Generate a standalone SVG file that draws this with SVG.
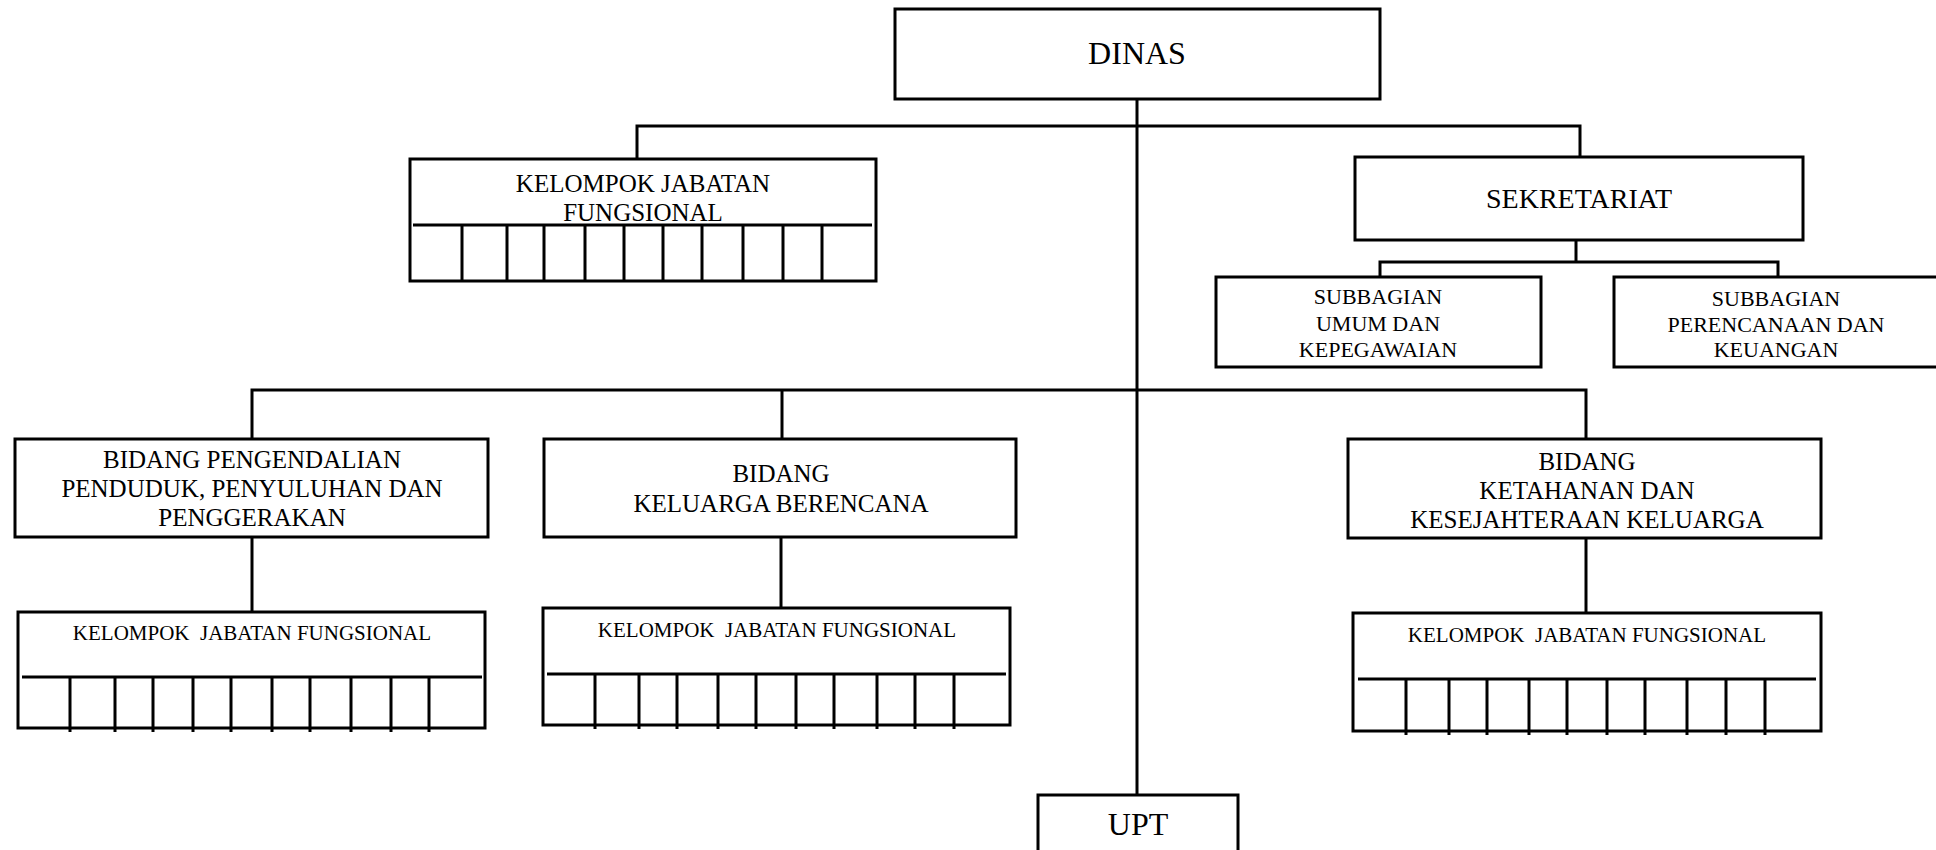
<svg xmlns="http://www.w3.org/2000/svg" width="1936" height="850" viewBox="0 0 1936 850">
<style>
  .box{fill:#fff;stroke:#000;stroke-width:3}
  .ln{fill:none;stroke:#000;stroke-width:3}
  text{font-family:"Liberation Serif","Times New Roman",serif;fill:#000;text-anchor:middle;white-space:pre}
  .t32{font-size:32px}
  .t28{font-size:28px}
  .t25{font-size:25px}
  .t22{font-size:22px}
  .t21{font-size:21px}
</style>
<rect width="1936" height="850" fill="#fff"/>
<g id="connectors" class="ln">
  <path d="M1137 99V795"/>
  <path d="M637 159V126H1580V157"/>
  <path d="M1576 240V262"/>
  <path d="M1380 277V262H1778V277"/>
  <path d="M252 439V390H1586V439"/>
  <path d="M782 390V439"/>
  <path d="M252 537V612"/>
  <path d="M781 537V608"/>
  <path d="M1586 538V613"/>
</g>
<g id="dinas">
  <rect class="box" x="895" y="9" width="485" height="90"/>
  <text class="t32" x="1137" y="64">DINAS</text>
</g>
<g id="kjf-top">
  <rect class="box" x="410" y="159" width="466" height="122"/>
  <path class="ln" d="M413 225H872M462 225V281M507 225V281M544 225V281M585 225V281M624 225V281M663 225V281M702 225V281M743 225V281M783 225V281M822 225V281"/>
  <text class="t25" x="643" y="192">KELOMPOK JABATAN</text>
  <text class="t25" x="643" y="221">FUNGSIONAL</text>
</g>
<g id="sekretariat">
  <rect class="box" x="1355" y="157" width="448" height="83"/>
  <text class="t28" x="1579" y="208">SEKRETARIAT</text>
</g>
<g id="subbag-umum">
  <rect class="box" x="1216" y="277" width="325" height="90"/>
  <text class="t22" x="1378" y="304">SUBBAGIAN</text>
  <text class="t22" x="1378" y="331">UMUM DAN</text>
  <text class="t22" x="1378" y="357">KEPEGAWAIAN</text>
</g>
<g id="subbag-perencanaan">
  <rect class="box" x="1614" y="277" width="330" height="90"/>
  <text class="t22" x="1776" y="306">SUBBAGIAN</text>
  <text class="t22" x="1776" y="332">PERENCANAAN DAN</text>
  <text class="t22" x="1776" y="357">KEUANGAN</text>
</g>
<g id="bidang-pengendalian">
  <rect class="box" x="15" y="439" width="473" height="98"/>
  <text class="t25" x="252" y="468">BIDANG PENGENDALIAN</text>
  <text class="t25" x="252" y="497">PENDUDUK, PENYULUHAN DAN</text>
  <text class="t25" x="252" y="526">PENGGERAKAN</text>
</g>
<g id="bidang-kb">
  <rect class="box" x="544" y="439" width="472" height="98"/>
  <text class="t25" x="781" y="482">BIDANG</text>
  <text class="t25" x="781" y="512">KELUARGA BERENCANA</text>
</g>
<g id="bidang-ketahanan">
  <rect class="box" x="1348" y="439" width="473" height="99"/>
  <text class="t25" x="1587" y="470">BIDANG</text>
  <text class="t25" x="1587" y="499">KETAHANAN DAN</text>
  <text class="t25" x="1587" y="528">KESEJAHTERAAN KELUARGA</text>
</g>
<g id="kjf-1">
  <rect class="box" x="18" y="612" width="467" height="116"/>
  <path class="ln" d="M22 677H482M70 677V732M115 677V732M153 677V732M193 677V732M231 677V732M272 677V732M310 677V732M351 677V732M391 677V732M429 677V732"/>
  <text class="t21" x="252" y="640">KELOMPOK  JABATAN FUNGSIONAL</text>
</g>
<g id="kjf-2">
  <rect class="box" x="543" y="608" width="467" height="117"/>
  <path class="ln" d="M547 674H1006M595 674V729M639 674V729M677 674V729M718 674V729M756 674V729M796 674V729M834 674V729M877 674V729M915 674V729M954 674V729"/>
  <text class="t21" x="777" y="637">KELOMPOK  JABATAN FUNGSIONAL</text>
</g>
<g id="kjf-3">
  <rect class="box" x="1353" y="613" width="468" height="118"/>
  <path class="ln" d="M1358 679H1816M1406 679V735M1449 679V735M1487 679V735M1529 679V735M1567 679V735M1607 679V735M1645 679V735M1687 679V735M1726 679V735M1765 679V735"/>
  <text class="t21" x="1587" y="642">KELOMPOK  JABATAN FUNGSIONAL</text>
</g>
<g id="upt">
  <rect class="box" x="1038" y="795" width="200" height="70"/>
  <text class="t32" x="1138" y="835">UPT</text>
</g>
</svg>
